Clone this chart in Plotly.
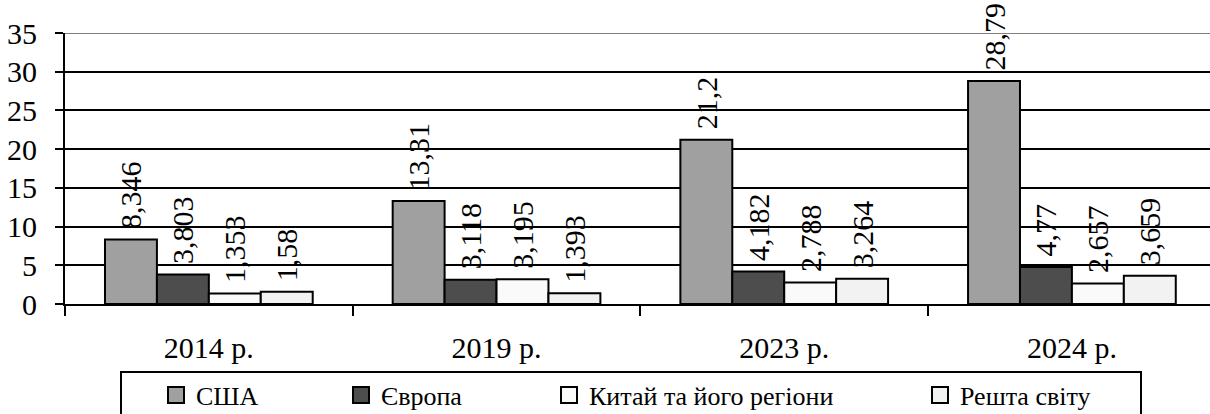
import plotly.graph_objects as go

categories = ["2014 р.", "2019 р.", "2023 р.", "2024 р."]
series_names = ["США", "Європа", "Китай та його регіони", "Решта світу"]
usa = [8.346, 13.31, 21.2, 28.79]
europe = [3.803, 3.118, 4.182, 4.77]
china = [1.353, 3.195, 2.788, 2.657]
rest = [1.58, 1.393, 3.264, 3.659]
y_ticks = [0, 5, 10, 15, 20, 25, 30, 35]

colors = ["#A0A0A0", "#4D4D4D", "#FAFAFA", "#F2F2F2"]
series_values = [usa, europe, china, rest]

FONT = "Liberation Serif"
W, H = 1210, 414
ML, MR, MT, MB = 65, 0, 33, 110
PW = W - ML - MR
PH = H - MT - MB


def px_x(p):
    return (p - ML) / PW


def px_y(p):
    return (H - MB - p) / PH


def fmt(v):
    return "\u00a0" + str(v).replace(".", ",")


fig = go.Figure()
for name, vals, col in zip(series_names, series_values, colors):
    fig.add_trace(go.Bar(
        x=categories, y=vals, name=name, showlegend=False,
        marker=dict(color=col, line=dict(color="black", width=2)),
        text=[fmt(v) for v in vals], textposition="outside", textangle=-90,
        textfont=dict(family=FONT, size=30, color="black"),
        cliponaxis=False, constraintext="none", hoverinfo="skip",
    ))

legend_centers = [178, 363, 571, 942]
legend_keys = ["legend", "legend2", "legend3", "legend4"]
for name, col, key in zip(series_names, colors, legend_keys):
    fig.add_trace(go.Scatter(
        x=[None], y=[None], mode="markers", name=name, legend=key,
        marker=dict(symbol="square", size=16, color=col, line=dict(color="black", width=2)),
    ))

layout_legends = {}
for key, c in zip(legend_keys, legend_centers):
    layout_legends[key] = dict(
        x=(c - 22) / W, y=1 - 395 / H, xref="container", yref="container",
        xanchor="left", yanchor="middle",
        orientation="h", bgcolor="rgba(0,0,0,0)", borderwidth=0,
        font=dict(family=FONT, size=26, color="black"), itemsizing="trace",
    )

fig.update_layout(
    width=W, height=H,
    margin=dict(l=ML, r=MR, t=MT, b=MB, autoexpand=False),
    paper_bgcolor="white", plot_bgcolor="white",
    barmode="group", bargap=0.278, bargroupgap=0,
    font=dict(family=FONT, size=30, color="black"),
    xaxis=dict(
        range=[-0.5, 3.48], showline=True, linecolor="black", linewidth=2,
        ticks="outside", tickson="boundaries", ticklen=10, tickwidth=2, tickcolor="black",
        tickfont=dict(family=FONT, size=30), ticklabelstandoff=16, showgrid=False,
        automargin=False,
    ),
    yaxis=dict(
        range=[0, 35], tickvals=y_ticks, showline=True, linecolor="black", linewidth=2,
        ticks="outside", ticklen=8, tickwidth=2, tickcolor="black",
        tickfont=dict(family=FONT, size=30), ticklabelstandoff=12,
        showgrid=True, gridcolor="black", gridwidth=2, zeroline=False,
        automargin=False,
    ),
    shapes=[
        dict(type="line", xref="paper", yref="y", x0=0, x1=1, y0=35, y1=35,
             line=dict(color="#808080", width=2), layer="above"),
        dict(type="rect", xref="paper", yref="paper",
             x0=px_x(121), x1=px_x(1141), y0=px_y(372), y1=px_y(430),
             line=dict(color="black", width=2), fillcolor="rgba(0,0,0,0)"),
    ],
    **layout_legends,
)

fig.write_html(
    "out.html",
    config={"displayModeBar": False},
    post_script="document.body.style.margin='0px';document.body.style.overflow='hidden';",
)
